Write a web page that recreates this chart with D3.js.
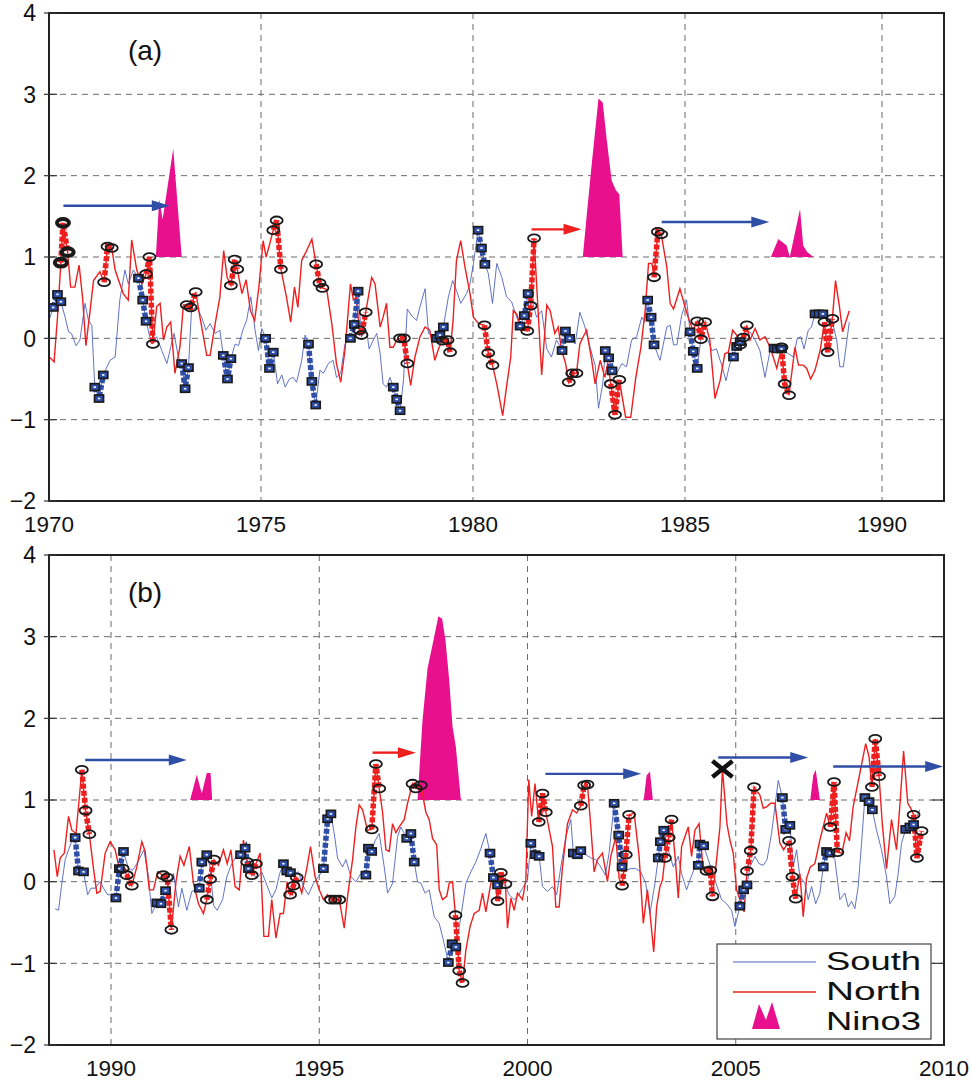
<!DOCTYPE html>
<html><head><meta charset="utf-8">
<script src="https://cdn.jsdelivr.net/npm/d3@7"></script>
<style>
body{margin:0;background:#fff;}
svg{display:block;font-family:"Liberation Sans",Arial,Helvetica,sans-serif;}
</style></head><body>
<svg id="chart" width="971" height="1082"></svg>
<script>
// ---------------- DATA ----------------
const yTicks = [-2, -1, 0, 1, 2, 3, 4];
const yTickLabels = ["\u22122", "\u22121", "0", "1", "2", "3", "4"];
const xTicksA = [1970, 1975, 1980, 1985, 1990];
const xTicksB = [1990, 1995, 2000, 2005, 2010];
const panelLabels = ["(a)", "(b)"];
const legendLabels = ["South", "North", "Nino3"];

const northA = [[1970.01,-0.23],[1970.12,-0.29],[1970.2,0.26],[1970.28,0.93],[1970.33,1.42],[1970.44,1.06],[1970.51,0.63],[1970.61,0.63],[1970.71,0.9],[1970.79,0.51],[1970.87,-0.09],[1970.97,0.34],[1971.05,0.71],[1971.2,0.82],[1971.3,0.69],[1971.38,1.13],[1971.48,1.11],[1971.56,0.84],[1971.75,0.55],[1971.87,0.47],[1971.95,1.21],[1972.07,0.84],[1972.19,0.67],[1972.29,0.79],[1972.37,1.0],[1972.45,-0.07],[1972.54,0.39],[1972.62,0.43],[1972.7,-0.02],[1972.78,0.14],[1972.87,0.2],[1972.97,-0.43],[1973.09,-0.1],[1973.17,0.41],[1973.25,0.41],[1973.34,0.38],[1973.46,0.57],[1973.56,0.26],[1973.72,-0.21],[1973.8,-0.21],[1973.92,0.18],[1974.03,0.51],[1974.12,1.08],[1974.2,0.75],[1974.29,0.65],[1974.38,0.97],[1974.44,0.85],[1974.55,0.55],[1974.65,0.72],[1974.75,0.34],[1974.85,0.22],[1974.95,0.63],[1975.05,1.2],[1975.12,1.0],[1975.2,1.15],[1975.29,1.33],[1975.37,1.45],[1975.47,0.85],[1975.6,0.51],[1975.7,0.2],[1975.79,0.63],[1975.87,0.38],[1975.96,0.96],[1976.05,1.05],[1976.2,1.22],[1976.3,0.91],[1976.38,0.68],[1976.45,0.62],[1976.55,0.6],[1976.67,0.18],[1976.78,-0.31],[1976.88,-0.54],[1976.98,-0.15],[1977.11,0.67],[1977.18,0.47],[1977.25,0.51],[1977.32,0.1],[1977.37,0.04],[1977.47,0.32],[1977.61,0.75],[1977.69,0.67],[1977.81,0.14],[1977.88,0.26],[1977.96,0.43],[1978.04,-0.11],[1978.12,-0.11],[1978.2,-0.02],[1978.28,0.0],[1978.37,0.0],[1978.45,-0.31],[1978.53,-0.58],[1978.63,-0.23],[1978.75,0.02],[1978.87,0.14],[1978.98,0.1],[1979.1,-0.27],[1979.2,-0.11],[1979.28,-0.03],[1979.4,-0.02],[1979.46,-0.17],[1979.53,0.22],[1979.61,0.96],[1979.71,1.2],[1979.81,0.88],[1979.93,0.55],[1980.01,0.26],[1980.13,0.18],[1980.27,0.16],[1980.36,-0.18],[1980.46,-0.33],[1980.56,-0.56],[1980.7,-0.95],[1980.79,-0.6],[1980.89,-0.23],[1980.95,0.34],[1981.03,0.3],[1981.15,0.1],[1981.28,0.09],[1981.36,0.4],[1981.44,1.23],[1981.62,-0.45],[1981.74,0.41],[1981.82,0.34],[1981.93,0.06],[1982.01,0.14],[1982.09,-0.15],[1982.18,-0.3],[1982.26,-0.54],[1982.34,-0.43],[1982.44,-0.43],[1982.52,-0.07],[1982.6,0.02],[1982.68,0.1],[1982.8,-0.27],[1982.88,-0.56],[1983.0,-0.27],[1983.11,-0.48],[1983.18,-0.3],[1983.25,-0.56],[1983.35,-0.94],[1983.45,-0.51],[1983.6,-0.97],[1983.72,-0.97],[1983.84,-0.48],[1983.96,-0.11],[1984.06,0.34],[1984.14,0.92],[1984.22,0.92],[1984.27,0.75],[1984.36,1.31],[1984.44,1.28],[1984.57,0.88],[1984.65,0.43],[1984.73,0.36],[1984.88,0.61],[1985.0,0.39],[1985.08,0.26],[1985.2,0.1],[1985.31,0.21],[1985.4,-0.01],[1985.51,0.2],[1985.63,-0.02],[1985.76,-0.74],[1985.89,-0.52],[1986.01,-0.19],[1986.1,-0.17],[1986.21,0.1],[1986.31,0.04],[1986.4,-0.08],[1986.48,0.01],[1986.57,0.16],[1986.65,-0.02],[1986.78,0.12],[1986.9,-0.02],[1987.03,0.02],[1987.16,-0.11],[1987.33,-0.37],[1987.45,-0.11],[1987.53,-0.56],[1987.64,-0.7],[1987.79,-0.11],[1987.88,-0.33],[1988.0,-0.33],[1988.09,-0.37],[1988.19,-0.5],[1988.3,-0.39],[1988.43,-0.15],[1988.54,0.2],[1988.62,-0.17],[1988.74,0.24],[1988.82,0.71],[1988.92,0.39],[1989.0,0.08],[1989.17,0.34]];

const southA = [[1970.01,0.24],[1970.1,0.38],[1970.2,0.54],[1970.28,0.45],[1970.38,0.26],[1970.46,0.08],[1970.53,0.06],[1970.64,-0.09],[1970.73,-0.02],[1970.85,0.43],[1970.93,0.22],[1971.01,0.16],[1971.08,-0.6],[1971.18,-0.74],[1971.28,-0.45],[1971.44,-0.27],[1971.56,-0.23],[1971.67,0.47],[1971.79,0.84],[1971.87,0.67],[1971.99,0.84],[1972.11,0.74],[1972.21,0.47],[1972.29,0.21],[1972.42,-0.07],[1972.54,0.02],[1972.66,-0.15],[1972.78,-0.31],[1972.87,-0.11],[1972.95,0.06],[1973.05,-0.23],[1973.13,-0.31],[1973.21,-0.62],[1973.29,-0.36],[1973.36,0.34],[1973.48,0.39],[1973.6,0.26],[1973.7,0.1],[1973.8,0.18],[1973.92,0.06],[1974.03,0.1],[1974.11,-0.21],[1974.21,-0.5],[1974.29,-0.25],[1974.39,-0.07],[1974.47,-0.09],[1974.57,0.1],[1974.66,0.22],[1974.76,0.51],[1974.86,0.1],[1974.94,-0.15],[1975.02,0.12],[1975.11,0.0],[1975.2,-0.37],[1975.29,-0.17],[1975.39,-0.56],[1975.49,-0.45],[1975.57,-0.6],[1975.67,-0.5],[1975.76,-0.48],[1975.84,-0.54],[1975.96,-0.27],[1976.04,0.04],[1976.12,-0.07],[1976.2,-0.53],[1976.29,-0.82],[1976.39,-0.39],[1976.47,-0.43],[1976.59,-0.31],[1976.7,-0.27],[1976.78,-0.48],[1976.88,-0.43],[1976.98,-0.07],[1977.11,0.0],[1977.2,0.17],[1977.29,0.58],[1977.37,0.02],[1977.49,0.1],[1977.55,-0.13],[1977.65,-0.02],[1977.73,0.06],[1977.81,-0.19],[1977.88,-0.56],[1977.96,-0.6],[1978.04,-0.48],[1978.12,-0.6],[1978.2,-0.75],[1978.28,-0.89],[1978.36,-0.52],[1978.45,0.36],[1978.55,0.28],[1978.67,0.22],[1978.75,0.39],[1978.87,0.61],[1978.95,0.06],[1979.02,0.04],[1979.14,0.0],[1979.22,0.04],[1979.3,0.14],[1979.42,0.51],[1979.52,0.71],[1979.61,0.59],[1979.71,0.43],[1979.85,0.55],[1979.93,0.67],[1980.01,0.92],[1980.12,1.33],[1980.2,1.11],[1980.28,0.91],[1980.36,0.8],[1980.46,0.43],[1980.56,0.92],[1980.68,0.75],[1980.79,0.51],[1980.91,0.45],[1981.03,0.26],[1981.11,0.15],[1981.21,0.28],[1981.3,0.55],[1981.4,0.45],[1981.5,0.26],[1981.62,0.34],[1981.74,-0.13],[1981.85,-0.23],[1981.97,-0.02],[1982.1,-0.15],[1982.18,0.09],[1982.28,0.0],[1982.41,-0.07],[1982.52,0.32],[1982.64,0.14],[1982.76,-0.11],[1982.88,-0.33],[1982.96,-0.86],[1983.06,-0.56],[1983.12,-0.15],[1983.2,-0.24],[1983.28,-0.4],[1983.39,-0.43],[1983.51,-0.31],[1983.62,-0.35],[1983.74,-0.02],[1983.86,0.02],[1983.98,0.26],[1984.05,0.2],[1984.12,0.47],[1984.2,0.26],[1984.27,-0.08],[1984.41,-0.27],[1984.49,-0.07],[1984.57,0.14],[1984.65,0.16],[1984.73,-0.08],[1984.81,-0.08],[1984.92,0.28],[1985.04,0.47],[1985.13,0.08],[1985.21,-0.16],[1985.31,-0.37],[1985.42,0.06],[1985.55,0.02],[1985.68,-0.15],[1985.8,-0.13],[1985.93,-0.33],[1986.04,-0.52],[1986.14,-0.31],[1986.23,-0.23],[1986.31,-0.1],[1986.4,-0.04],[1986.52,0.05],[1986.65,0.08],[1986.78,-0.02],[1986.9,-0.15],[1987.03,-0.48],[1987.16,-0.15],[1987.26,-0.12],[1987.34,-0.13],[1987.45,-0.13],[1987.6,-0.18],[1987.75,-0.23],[1987.85,0.0],[1987.94,0.02],[1988.02,-0.13],[1988.13,0.1],[1988.21,0.14],[1988.3,0.3],[1988.4,0.3],[1988.5,0.3],[1988.62,0.22],[1988.72,0.24],[1988.85,-0.02],[1988.93,-0.35],[1989.02,-0.35],[1989.17,0.2]];

const northB = [[1988.63,0.39],[1988.71,0.06],[1988.78,0.29],[1988.88,0.35],[1988.98,0.8],[1989.06,0.63],[1989.16,0.59],[1989.3,1.37],[1989.39,0.87],[1989.48,0.58],[1989.58,0.16],[1989.66,-0.14],[1989.74,-0.12],[1989.86,0.35],[1989.98,0.49],[1990.1,0.39],[1990.19,0.18],[1990.28,0.16],[1990.38,0.08],[1990.5,-0.05],[1990.62,0.18],[1990.74,0.49],[1990.82,0.37],[1990.92,-0.1],[1991.02,-0.1],[1991.12,0.12],[1991.25,0.08],[1991.35,0.05],[1991.45,-0.59],[1991.56,0.0],[1991.66,0.31],[1991.75,0.2],[1991.88,0.43],[1991.98,-0.02],[1992.1,-0.27],[1992.22,-0.39],[1992.3,-0.22],[1992.38,0.03],[1992.47,0.27],[1992.58,0.2],[1992.7,0.39],[1992.79,0.22],[1992.88,0.39],[1992.98,-0.06],[1993.08,-0.1],[1993.18,0.51],[1993.27,0.24],[1993.38,0.08],[1993.48,0.22],[1993.58,0.35],[1993.67,-0.67],[1993.78,-0.67],[1993.86,-0.22],[1993.96,-0.69],[1994.06,-0.39],[1994.14,-0.39],[1994.23,0.0],[1994.3,-0.16],[1994.38,-0.05],[1994.46,0.05],[1994.58,-0.14],[1994.7,0.16],[1994.79,0.43],[1994.9,0.06],[1995.0,-0.1],[1995.1,-0.22],[1995.2,-0.16],[1995.28,-0.22],[1995.38,-0.22],[1995.48,-0.22],[1995.6,-0.57],[1995.68,-0.18],[1995.8,0.27],[1995.88,0.67],[1995.96,0.94],[1996.04,0.88],[1996.16,0.63],[1996.26,0.64],[1996.36,1.44],[1996.44,1.14],[1996.52,0.85],[1996.6,0.39],[1996.68,0.37],[1996.76,0.71],[1996.84,0.6],[1996.92,0.67],[1997.04,0.76],[1997.12,0.96],[1997.24,1.2],[1997.32,1.14],[1997.44,1.18],[1997.56,0.85],[1997.64,0.76],[1997.72,0.53],[1997.82,0.45],[1997.88,-0.1],[1997.96,-0.22],[1998.06,-0.18],[1998.12,-0.02],[1998.2,0.0],[1998.27,-0.41],[1998.36,-1.09],[1998.44,-1.24],[1998.52,-0.84],[1998.62,-0.55],[1998.72,-0.39],[1998.84,-0.35],[1998.92,-0.14],[1999.0,-0.37],[1999.12,-0.02],[1999.2,0.06],[1999.28,-0.24],[1999.36,0.11],[1999.47,-0.03],[1999.52,-0.57],[1999.6,-0.2],[1999.68,-0.35],[1999.76,-0.14],[1999.88,-0.22],[1999.96,0.02],[2000.03,1.25],[2000.1,0.8],[2000.18,1.2],[2000.27,0.73],[2000.36,1.08],[2000.44,0.85],[2000.6,0.43],[2000.68,-0.31],[2000.76,-0.31],[2000.84,0.18],[2000.96,0.71],[2001.08,0.88],[2001.18,0.84],[2001.28,0.93],[2001.36,1.18],[2001.44,1.19],[2001.52,0.67],[2001.6,0.12],[2001.68,0.27],[2001.8,0.35],[2001.92,0.0],[2002.0,0.31],[2002.12,0.55],[2002.2,0.04],[2002.27,-0.05],[2002.36,0.33],[2002.44,0.82],[2002.56,0.84],[2002.68,0.31],[2002.78,-0.51],[2002.88,-0.1],[2002.95,-0.43],[2003.03,-0.86],[2003.1,-0.31],[2003.18,-0.06],[2003.24,0.02],[2003.3,0.29],[2003.39,0.54],[2003.46,0.76],[2003.55,0.27],[2003.62,-0.2],[2003.7,0.43],[2003.78,0.55],[2003.86,0.67],[2003.94,0.31],[2004.02,0.63],[2004.12,0.71],[2004.22,0.14],[2004.3,0.13],[2004.39,0.14],[2004.44,-0.18],[2004.54,0.27],[2004.62,0.67],[2004.68,1.38],[2004.79,0.7],[2004.86,0.51],[2004.94,0.35],[2005.02,-0.1],[2005.1,-0.22],[2005.2,-0.37],[2005.27,0.13],[2005.36,0.38],[2005.44,1.16],[2005.52,1.1],[2005.58,1.06],[2005.66,0.9],[2005.75,0.92],[2005.84,0.96],[2005.94,0.96],[2006.06,0.47],[2006.15,0.39],[2006.28,0.5],[2006.36,0.06],[2006.44,-0.21],[2006.54,0.1],[2006.62,-0.43],[2006.7,0.04],[2006.79,0.18],[2006.9,0.22],[2007.02,0.51],[2007.1,0.67],[2007.18,0.84],[2007.27,0.67],[2007.36,1.22],[2007.44,0.36],[2007.55,0.35],[2007.65,0.6],[2007.73,0.5],[2007.82,0.92],[2007.98,1.33],[2008.12,1.69],[2008.2,1.53],[2008.27,1.16],[2008.35,1.75],[2008.44,1.29],[2008.52,0.7],[2008.62,0.16],[2008.74,0.76],[2008.86,0.39],[2008.95,1.0],[2009.03,1.6],[2009.13,0.96],[2009.2,0.9],[2009.27,0.82],[2009.35,0.29],[2009.46,0.62]];

const southB = [[1988.66,-0.33],[1988.74,-0.35],[1988.82,-0.02],[1988.9,0.27],[1988.98,0.39],[1989.06,0.5],[1989.14,0.54],[1989.22,0.13],[1989.34,0.12],[1989.44,-0.16],[1989.52,-0.08],[1989.62,-0.08],[1989.74,0.0],[1989.82,-0.08],[1989.92,-0.16],[1990.04,-0.16],[1990.12,-0.2],[1990.2,0.16],[1990.3,0.37],[1990.42,0.16],[1990.52,0.14],[1990.62,0.22],[1990.79,0.39],[1990.9,0.06],[1990.98,-0.39],[1991.1,-0.26],[1991.2,-0.27],[1991.31,-0.11],[1991.38,-0.04],[1991.5,0.1],[1991.62,-0.31],[1991.7,-0.08],[1991.82,-0.35],[1991.94,-0.12],[1992.03,-0.1],[1992.12,-0.08],[1992.18,0.24],[1992.3,0.33],[1992.38,0.18],[1992.46,-0.29],[1992.55,-0.35],[1992.68,-0.22],[1992.78,0.06],[1992.9,0.22],[1993.03,0.33],[1993.11,0.33],[1993.22,0.41],[1993.3,0.16],[1993.4,0.1],[1993.5,0.04],[1993.62,0.12],[1993.74,-0.04],[1993.86,-0.2],[1993.96,-0.1],[1994.05,0.1],[1994.14,0.22],[1994.22,0.13],[1994.31,0.11],[1994.4,0.1],[1994.5,0.12],[1994.62,-0.06],[1994.74,-0.16],[1994.86,-0.02],[1994.98,0.06],[1995.1,0.16],[1995.2,0.77],[1995.28,0.83],[1995.36,0.59],[1995.44,0.29],[1995.56,0.18],[1995.64,0.27],[1995.76,0.06],[1995.88,0.0],[1996.0,0.1],[1996.12,0.08],[1996.18,0.41],[1996.26,0.37],[1996.34,0.5],[1996.44,0.59],[1996.56,0.18],[1996.64,-0.14],[1996.76,-0.02],[1996.88,0.55],[1996.96,0.67],[1997.1,0.53],[1997.2,0.59],[1997.28,0.24],[1997.36,0.0],[1997.44,-0.02],[1997.54,-0.14],[1997.64,-0.1],[1997.76,-0.43],[1997.88,-0.51],[1998.0,-0.76],[1998.1,-0.99],[1998.19,-0.76],[1998.28,-0.8],[1998.4,-0.43],[1998.52,-0.02],[1998.64,0.12],[1998.76,0.24],[1998.87,0.39],[1999.0,0.59],[1999.1,0.35],[1999.18,0.05],[1999.28,-0.04],[1999.4,-0.02],[1999.48,-0.06],[1999.56,-0.16],[1999.68,-0.22],[1999.79,-0.16],[1999.88,-0.08],[2000.0,0.02],[2000.08,0.47],[2000.19,0.33],[2000.28,0.31],[2000.36,-0.06],[2000.48,-0.12],[2000.6,-0.06],[2000.7,-0.16],[2000.8,0.18],[2000.92,0.55],[2001.04,0.76],[2001.1,0.35],[2001.2,0.33],[2001.28,0.38],[2001.4,0.33],[2001.52,0.29],[2001.64,0.27],[2001.76,0.18],[2001.87,0.08],[2001.96,0.35],[2002.08,0.96],[2002.19,0.57],[2002.27,0.18],[2002.36,0.14],[2002.48,0.16],[2002.6,0.16],[2002.72,0.12],[2002.84,-0.02],[2002.94,-0.39],[2003.06,-0.02],[2003.14,0.29],[2003.19,0.49],[2003.27,0.63],[2003.38,0.39],[2003.5,0.18],[2003.62,0.31],[2003.7,0.1],[2003.82,-0.1],[2003.9,0.02],[2004.02,0.18],[2004.1,0.2],[2004.14,0.46],[2004.23,0.44],[2004.34,0.27],[2004.44,0.12],[2004.54,-0.04],[2004.66,-0.22],[2004.78,-0.27],[2004.9,-0.35],[2004.98,-0.55],[2005.1,-0.3],[2005.19,-0.1],[2005.27,-0.04],[2005.34,0.18],[2005.46,0.31],[2005.56,0.22],[2005.66,0.2],[2005.75,0.27],[2005.86,0.59],[2006.02,1.24],[2006.12,1.03],[2006.2,0.64],[2006.3,0.69],[2006.38,0.18],[2006.46,0.39],[2006.54,0.06],[2006.66,-0.02],[2006.74,-0.22],[2006.82,-0.06],[2006.92,-0.27],[2007.02,-0.14],[2007.1,0.18],[2007.18,0.37],[2007.26,0.35],[2007.38,0.27],[2007.5,-0.22],[2007.62,-0.14],[2007.7,-0.31],[2007.78,-0.24],[2007.86,-0.33],[2007.94,-0.06],[2008.02,0.47],[2008.1,1.03],[2008.2,0.98],[2008.28,0.88],[2008.38,0.63],[2008.5,0.39],[2008.62,0.06],[2008.7,-0.27],[2008.82,-0.18],[2008.9,0.1],[2008.98,0.47],[2009.08,0.64],[2009.18,0.67],[2009.27,0.7],[2009.42,0.88]];

// highlighted (thick dashed + marker) windows [startYear, endYear]
const southHighlightA = [[1970.1,1970.28],[1971.08,1971.28],[1972.11,1972.29],[1973.13,1973.29],[1974.11,1974.29],[1975.11,1975.29],[1976.12,1976.29],[1977.11,1977.29],[1978.12,1978.28],[1979.14,1979.3],[1980.12,1980.28],[1981.11,1981.3],[1982.1,1982.28],[1983.12,1983.28],[1984.12,1984.27],[1985.13,1985.31],[1986.23,1986.4],[1987.26,1987.45],[1988.3,1988.5]];
const northHighlightA = [[1970.28,1970.44],[1971.3,1971.48],[1972.29,1972.45],[1973.25,1973.46],[1974.29,1974.44],[1975.29,1975.47],[1976.3,1976.45],[1977.32,1977.47],[1978.28,1978.45],[1979.28,1979.46],[1980.27,1980.46],[1981.28,1981.44],[1982.26,1982.44],[1983.25,1983.45],[1984.27,1984.44],[1985.31,1985.51],[1986.4,1986.57],[1987.45,1987.64],[1988.54,1988.74]];
const boldNorthA = [[1970.28,1970.44]];
const southHighlightB = [[1989.14,1989.34],[1990.12,1990.3],[1991.1,1991.31],[1992.12,1992.3],[1993.11,1993.3],[1994.14,1994.31],[1995.1,1995.28],[1996.12,1996.26],[1997.1,1997.28],[1998.1,1998.28],[1999.1,1999.28],[2000.08,2000.28],[2001.1,2001.28],[2002.08,2002.27],[2003.14,2003.27],[2004.1,2004.23],[2005.1,2005.27],[2006.12,2006.3],[2007.1,2007.26],[2008.1,2008.28],[2009.08,2009.27]];
const northHighlightB = [[1989.3,1989.48],[1990.28,1990.5],[1991.25,1991.45],[1992.3,1992.47],[1993.27,1993.48],[1994.3,1994.46],[1995.28,1995.48],[1996.26,1996.44],[1997.24,1997.44],[1998.27,1998.44],[1999.28,1999.47],[2000.27,2000.44],[2001.28,2001.44],[2002.27,2002.44],[2003.3,2003.46],[2004.3,2004.44],[2005.27,2005.44],[2006.28,2006.44],[2007.27,2007.44],[2008.27,2008.44],[2009.27,2009.46]];

// Nino3 events (drawn above the baseline value 1)
const nino3A = [
  [[1972.52,1],[1972.6,1.71],[1972.68,1.46],[1972.93,2.33],[1973.13,1]],
  [[1982.59,1],[1982.68,1.5],[1982.8,2.14],[1982.96,2.95],[1983.06,2.9],[1983.15,2.46],[1983.27,1.94],[1983.37,1.82],[1983.45,1.77],[1983.53,1]],
  [[1987.18,1],[1987.37,1.22],[1987.58,1.14],[1987.66,1],[1987.92,1.59],[1988.0,1.14],[1988.1,1.06],[1988.26,1]]
];
const nino3B = [
  [[1991.9,1],[1992.06,1.31],[1992.18,1.08],[1992.3,1.33],[1992.39,1.33],[1992.43,1]],
  [[1997.36,1],[1997.48,1.98],[1997.6,2.61],[1997.76,3.0],[1997.86,3.25],[1997.95,3.22],[1998.03,2.96],[1998.12,2.47],[1998.2,1.9],[1998.28,1.65],[1998.4,1]],
  [[2002.79,1],[2002.86,1.3],[2002.94,1.35],[2003.01,1]],
  [[2006.79,1],[2006.86,1.3],[2006.92,1.37],[2007.02,1]]
];
const nino3Baseline = 1;

// arrows: [fromYear, toYear, value, series]
const arrowsA = [[1970.34,1972.85,1.63,"south"],[1981.38,1982.56,1.34,"north"],[1984.45,1987.14,1.43,"south"]];
const arrowsB = [[1989.38,1991.82,1.49,"south"],[1996.28,1997.32,1.58,"north"],[2000.43,2002.73,1.32,"south"],[2004.58,2006.74,1.52,"south"],[2007.34,2009.98,1.41,"south"]];
const crossB = [[2004.68,1.38]];

// ---------------- STYLE ----------------
const C = {south:"#4f63c2", southHL:"#2f4ea6", north:"#ee1f1f", nino:"#e8108c", grid:"#6b6b6b", ink:"#1a1a1a"};
const svg = d3.select("#chart");

function drawPanel(p) {
  const {left, right, top, bottom} = p.box;
  const x = d3.scaleLinear().domain(p.xDomain).range(p.xRange);
  const y = d3.scaleLinear().domain([yTicks[0], yTicks[yTicks.length-1]]).range([bottom, top]);
  const g = svg.append("g");
  const clipId = "clip-" + p.id;
  svg.append("clipPath").attr("id", clipId).append("rect")
    .attr("x", left).attr("y", top).attr("width", right-left).attr("height", bottom-top);

  // grid
  g.append("g").selectAll("line").data(yTicks.slice(1, -1)).join("line")
    .attr("x1", left).attr("x2", right).attr("y1", d => y(d)).attr("y2", d => y(d))
    .attr("stroke", C.grid).attr("stroke-width", 1).attr("stroke-dasharray", "6,5");
  g.append("g").selectAll("line").data(p.xTicks.filter(t => x(t) > left+2 && x(t) < right-2)).join("line")
    .attr("x1", d => x(d)).attr("x2", d => x(d)).attr("y1", top).attr("y2", bottom)
    .attr("stroke", C.grid).attr("stroke-width", 1).attr("stroke-dasharray", "6,5");

  const plot = g.append("g").attr("clip-path", `url(#${clipId})`);

  // nino3 areas
  const area = d3.area().x(d => x(d[0])).y0(y(nino3Baseline)).y1(d => y(d[1]));
  plot.selectAll("path.nino").data(p.nino3).join("path").attr("class","nino")
    .attr("d", area).attr("fill", C.nino);

  const line = d3.line().x(d => x(d[0])).y(d => y(d[1]));
  plot.append("path").datum(p.south).attr("d", line).attr("fill","none")
    .attr("stroke", C.south).attr("stroke-width", 0.9);
  plot.append("path").datum(p.north).attr("d", line).attr("fill","none")
    .attr("stroke", C.north).attr("stroke-width", 1.4);

  const inW = (d, w) => d[0] >= w[0]-0.001 && d[0] <= w[1]+0.001;
  const pick = (series, w) => series.filter(d => inW(d, w));
  const sSegs = p.southHL.map(w => pick(p.south, w));
  const nSegs = p.northHL.map(w => pick(p.north, w));

  plot.selectAll("path.shl").data(sSegs).join("path").attr("class","shl")
    .attr("d", line).attr("fill","none").attr("stroke", C.southHL)
    .attr("stroke-width", 5.5).attr("stroke-dasharray", "5,2");
  plot.selectAll("path.nhl").data(nSegs).join("path").attr("class","nhl")
    .attr("d", line).attr("fill","none").attr("stroke", C.north)
    .attr("stroke-width", 5.5).attr("stroke-dasharray", "5,2");

  const sPts = sSegs.flat();
  const sq = plot.selectAll("g.sq").data(sPts).join("g").attr("class","sq")
    .attr("transform", d => `translate(${x(d[0])},${y(d[1])})`);
  sq.append("rect").attr("x",-4.5).attr("y",-3.5).attr("width",9).attr("height",7)
    .attr("fill", C.southHL).attr("stroke", C.ink).attr("stroke-width", 1.7);
  sq.append("rect").attr("x",-1.2).attr("y",-0.8).attr("width",2.4).attr("height",1.6).attr("fill","#fff");

  const nPts = nSegs.flat();
  const bold = p.boldNorth || [];
  plot.selectAll("ellipse.el").data(nPts).join("ellipse").attr("class","el")
    .attr("cx", d => x(d[0])).attr("cy", d => y(d[1])).attr("rx", 6).attr("ry", 3.9)
    .attr("fill","none").attr("stroke", C.ink)
    .attr("stroke-width", d => bold.some(w => inW(d, w)) ? 4 : 1.8);

  // arrows
  p.arrows.forEach(a => {
    const col = a[3] === "north" ? C.north : C.southHL;
    const x1 = x(a[0]), x2 = x(a[1]), yy = y(a[2]);
    g.append("line").attr("x1", x1).attr("x2", x2 - 14).attr("y1", yy).attr("y2", yy)
      .attr("stroke", col).attr("stroke-width", 2.4);
    g.append("path").attr("d", `M${x2},${yy} L${x2-18},${yy-5.5} L${x2-18},${yy+5.5} Z`).attr("fill", col);
  });

  // cross markers
  (p.crosses || []).forEach(c => {
    const cx = x(c[0]), cy = y(c[1]);
    g.append("path").attr("d", `M${cx-10},${cy-8}L${cx+10},${cy+8}M${cx-10},${cy+8}L${cx+10},${cy-8}`)
      .attr("stroke", "#111").attr("stroke-width", 4.5).attr("fill","none");
  });

  // frame
  g.append("rect").attr("x", left).attr("y", top).attr("width", right-left).attr("height", bottom-top)
    .attr("fill","none").attr("stroke", "#222").attr("stroke-width", 2);

  // ticks
  g.append("g").selectAll("line").data(yTicks).join("line")
    .attr("x1", left-5).attr("x2", left+8).attr("y1", d => y(d)).attr("y2", d => y(d))
    .attr("stroke", "#333").attr("stroke-width", 1.2);
  if (p.rightTicks) {
    g.append("g").selectAll("line").data(yTicks).join("line")
      .attr("x1", right-12).attr("x2", right).attr("y1", d => y(d)).attr("y2", d => y(d))
      .attr("stroke", "#333").attr("stroke-width", 1.2);
  }

  // tick labels
  g.append("g").selectAll("text").data(yTicks).join("text")
    .attr("x", left-13).attr("y", d => y(d)).attr("dy", "0.36em")
    .attr("text-anchor","end").attr("font-size", 23).attr("fill", "#111")
    .text((d,i) => yTickLabels[i]);
  g.append("g").selectAll("text").data(p.xTicks).join("text")
    .attr("x", d => x(d)).attr("y", bottom + 31)
    .attr("text-anchor","middle").attr("font-size", 22.5).attr("fill", "#111")
    .text(d => d);

  g.append("text").attr("x", left + 96).attr("y", top + 47).attr("text-anchor","middle")
    .attr("font-size", 28).attr("fill","#111").text(p.label);

  return {x, y};
}

drawPanel({
  id: "a", box: {left:49, right:944, top:13, bottom:501},
  xDomain: xTicksA, xRange: [49, 261, 473, 685, 882], xTicks: xTicksA,
  south: southA, north: northA, nino3: nino3A,
  southHL: southHighlightA, northHL: northHighlightA, boldNorth: boldNorthA,
  arrows: arrowsA, label: panelLabels[0]
});
drawPanel({
  id: "b", box: {left:49, right:944, top:555, bottom:1045},
  xDomain: [xTicksB[0], xTicksB[xTicksB.length-1]], xRange: [111, 944], xTicks: xTicksB,
  south: southB, north: northB, nino3: nino3B,
  southHL: southHighlightB, northHL: northHighlightB,
  arrows: arrowsB, crosses: crossB, label: panelLabels[1], rightTicks: true
});

// legend
const lg = svg.append("g").attr("transform", "translate(717,944)");
lg.append("rect").attr("width", 214).attr("height", 95).attr("fill","#fff")
  .attr("stroke","#444").attr("stroke-width", 1.2);
lg.append("line").attr("x1", 16).attr("x2", 99).attr("y1", 18).attr("y2", 18)
  .attr("stroke", C.south).attr("stroke-width", 1.2);
lg.append("line").attr("x1", 16).attr("x2", 99).attr("y1", 48).attr("y2", 48)
  .attr("stroke", C.north).attr("stroke-width", 1.4);
lg.append("path").attr("d", "M35,85 L42,60 L49,76 L55,58 L63,85 Z").attr("fill", C.nino);
lg.selectAll("text").data(legendLabels).join("text")
  .attr("x", 109).attr("y", (d,i) => 26 + i*30)
  .attr("font-size", 25).attr("fill","#111")
  .attr("textLength", 95).attr("lengthAdjust", "spacingAndGlyphs")
  .text(d => d);
</script>
</body></html>
